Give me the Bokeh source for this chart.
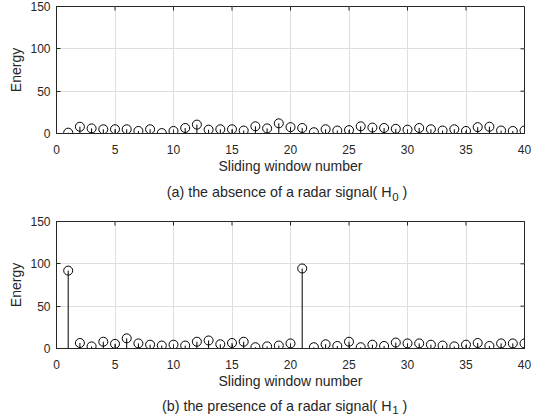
import math
from bokeh.plotting import figure
from bokeh.layouts import column
from bokeh.models import Range1d, FixedTicker, Label
from bokeh.embed import file_html
from bokeh.resources import INLINE

windows = list(range(1, 41))
energy_h0 = [1, 8, 6, 5, 5, 5, 3, 5, 0.5, 3,
             6.5, 10.5, 4.5, 5, 5, 3.5, 8.5, 6, 12, 7.5,
             6.5, 1.5, 5, 3.5, 4, 8.5, 7, 6.5, 5.5, 4.5,
             6.5, 5, 3.5, 5, 3, 7.5, 8, 3.5, 3, 3.5]
energy_h1 = [92, 6.5, 2.5, 8, 5.5, 12, 6, 4.5, 3.5, 4.5,
             3.5, 8, 9.5, 5, 6.5, 8, 1.5, 2.5, 3.5, 6,
             94.5, 1.5, 5, 3, 8, 1.5, 4.5, 3, 7, 6,
             6, 4.5, 3.5, 2.5, 4.5, 6.5, 3, 6, 6, 6]
x_ticks = [0, 5, 10, 15, 20, 25, 30, 35, 40]
y_ticks = [0, 50, 100, 150]
x_label = "Sliding window number"
y_label = "Energy"
captions = [("(a) the absence of a radar signal( H", "0", ")"),
            ("(b) the presence of a radar signal( H", "1", ")")]

FONT = "Liberation Sans"
TXT = "#262626"
W = 547


def make_panel(values, height, top, bottom):
    p = figure(width=W, height=height, output_backend="svg", toolbar_location=None,
               x_range=Range1d(0, 40), y_range=Range1d(0, 150),
               min_border_left=56, min_border_right=23,
               min_border_top=top, min_border_bottom=bottom,
               background_fill_color="white", border_fill_color="white")
    p.outline_line_color = TXT
    p.outline_line_width = 1
    for ax in (p.xaxis[0], p.yaxis[0]):
        ax.major_tick_in = 4
        ax.major_tick_out = 0
        ax.minor_tick_line_color = None
        ax.axis_line_color = TXT
        ax.major_tick_line_color = TXT
        ax.major_label_text_font = FONT
        ax.major_label_text_font_size = "12px"
        ax.major_label_text_color = TXT
        ax.axis_label_text_font = FONT
        ax.axis_label_text_font_size = "14px"
        ax.axis_label_text_font_style = "normal"
        ax.axis_label_text_color = TXT
    p.xaxis[0].ticker = FixedTicker(ticks=x_ticks)
    p.yaxis[0].ticker = FixedTicker(ticks=y_ticks)
    p.xaxis[0].axis_label = x_label
    p.yaxis[0].axis_label = y_label
    p.xaxis[0].major_label_standoff = 11
    p.xaxis[0].axis_label_standoff = 1
    p.yaxis[0].major_label_standoff = 6
    p.yaxis[0].axis_label_standoff = 3

    p.xgrid.ticker = FixedTicker(ticks=x_ticks)
    p.ygrid.ticker = FixedTicker(ticks=y_ticks)
    p.grid.grid_line_color = "#dedede"
    p.grid.grid_line_width = 1

    # inward ticks on the top and right edges (dashes half clipped by the frame)
    p.scatter(x=x_ticks, y=[150] * len(x_ticks), marker="dash", size=8,
              angle=math.pi / 2, line_color=TXT, line_width=1)
    p.scatter(x=[40] * len(y_ticks), y=y_ticks, marker="dash", size=8,
              line_color=TXT, line_width=1)

    p.segment(x0=windows, y0=[0] * len(windows), x1=windows, y1=values,
              line_color="black", line_width=1)
    p.line(x=[0, 40], y=[0, 0], line_color="black", line_width=1)
    p.scatter(x=windows, y=values, marker="circle", size=9,
              fill_color=None, line_color="black", line_width=1)
    return p


def make_caption(caption, height, base_y, sub_y):
    c = figure(width=W, height=height, output_backend="svg", toolbar_location=None,
               x_range=Range1d(0, W), y_range=Range1d(0, height),
               x_axis_type=None, y_axis_type=None, min_border=0,
               background_fill_color="white", border_fill_color="white")
    c.outline_line_color = None
    c.grid.visible = False
    main, sub, tail = caption
    c.add_layout(Label(x=391.7, y=base_y, text=main, text_align="right",
                       text_baseline="alphabetic", text_font=FONT, text_font_size="14.3px",
                       text_color=TXT))
    c.add_layout(Label(x=392.5, y=sub_y, text=sub, text_align="left",
                       text_baseline="alphabetic", text_font=FONT, text_font_size="11.5px",
                       text_color=TXT))
    c.add_layout(Label(x=404.5, y=base_y, text=tail, text_align="left",
                       text_baseline="alphabetic", text_font=FONT, text_font_size="14.3px",
                       text_color=TXT))
    return c


p1 = make_panel(energy_h0, 178, 6, 45)
c1 = make_caption(captions[0], 30, 17, 11.3)
p2 = make_panel(energy_h1, 183, 13, 42)
c2 = make_caption(captions[1], 25, 10.5, 6.2)
layout = column(p1, c1, p2, c2, spacing=0)

open("out.html", "w").write(file_html(layout, INLINE))
